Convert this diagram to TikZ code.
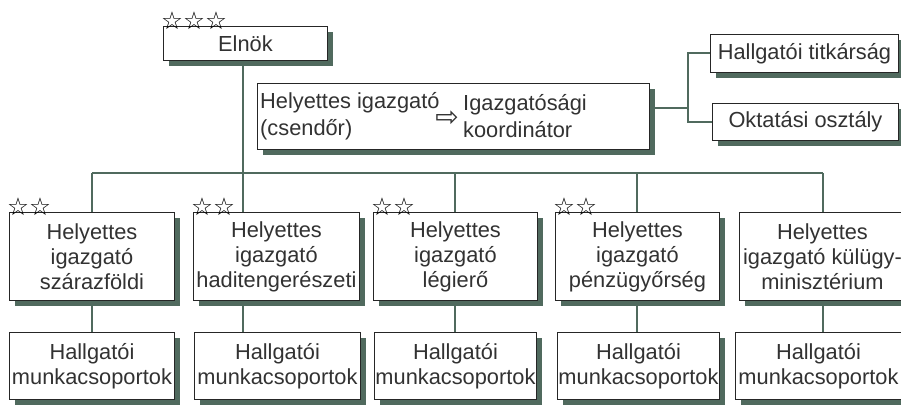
\documentclass[tikz,border=0pt]{standalone}
\usepackage{fontspec}
\setmainfont{Liberation Sans}
\newfontfamily\symfont{DejaVu Sans}
\usetikzlibrary{shadows}
\definecolor{shcol}{RGB}{80,106,94}
\definecolor{txtcol}{RGB}{50,50,50}
\begin{document}
\begin{tikzpicture}[x=1pt,y=-1pt,
  box/.style={draw=black!85, line width=0.9pt, fill=white, inner sep=0pt, align=center,
    text=txtcol, font=\fontsize{21.8}{25}\selectfont, anchor=north west,
    drop shadow={fill=shcol, opacity=1, shadow xshift=6pt, shadow yshift=-6pt}},
  lbl/.style={inner sep=0pt, text=txtcol, font=\fontsize{21.8}{27}\selectfont},
  stars/.style={inner sep=0pt, anchor=south west, text=black, font=\symfont\fontsize{24.5}{24.5}\selectfont},
  conn/.style={draw=shcol, line width=2pt}]
\useasboundingbox (0,0) rectangle (901,405);
\clip (0,0) rectangle (901,405);
% top
\node[box, minimum width=164pt, minimum height=34pt] (elnok) at (163,26) {Elnök};
\node[box, minimum width=392pt, minimum height=66pt] (hig) at (257,83) {};
\node[lbl, anchor=west, align=left] (hl) at (260,116) {Helyettes igazgató\\(csendőr)};
\node[inner sep=0pt, text=txtcol, font=\symfont\fontsize{28}{28}\selectfont] (arr) at (447,119) {⇨};
\node[lbl, anchor=west, align=left] (hr) at (463,116) {Igazgatósági\\koordinátor};
\node[box, minimum width=188pt, minimum height=38pt] (sec) at (710,34) {Hallgatói titkárság};
\node[box, minimum width=186pt, minimum height=37pt] (okt) at (712,103) {Oktatási osztály};
% deputies
\node[box, minimum width=165pt, minimum height=88pt] (d1) at (9,212) {Helyettes\\igazgató\\szárazföldi};
\node[box, minimum width=166pt, minimum height=88pt] (d2) at (193,212) {Helyettes\\igazgató\\haditengerészeti};
\node[box, minimum width=164pt, minimum height=88pt] (d3) at (373,212) {Helyettes\\igazgató\\légierő};
\node[box, minimum width=164pt, minimum height=88pt] (d4) at (555,212) {Helyettes\\igazgató\\pénzügyőrség};
\node[box, minimum width=166pt, minimum height=88pt] (d5) at (739,212) {Helyettes\\igazgató külügy-\\minisztérium};
% working groups
\node[box, minimum width=165pt, minimum height=67pt] (w1) at (9,332) {Hallgatói\\munkacsoportok};
\node[box, minimum width=166pt, minimum height=67pt] (w2) at (194,332) {Hallgatói\\munkacsoportok};
\node[box, minimum width=162pt, minimum height=67pt] (w3) at (374,332) {Hallgatói\\munkacsoportok};
\node[box, minimum width=162pt, minimum height=67pt] (w4) at (557,332) {Hallgatói\\munkacsoportok};
\node[box, minimum width=166pt, minimum height=67pt] (w5) at (735,332) {Hallgatói\\munkacsoportok};
% stars
\node[stars] (st0) at ([xshift=-2pt,yshift=-4pt]elnok.north west) {☆☆☆};
\node[stars] (st1) at ([xshift=-2pt,yshift=-4pt]d1.north west) {☆☆};
\node[stars] (st2) at ([xshift=-2pt,yshift=-4pt]d2.north west) {☆☆};
\node[stars] (st3) at ([xshift=-2pt,yshift=-4pt]d3.north west) {☆☆};
\node[stars] (st4) at ([xshift=-2pt,yshift=-4pt]d4.north west) {☆☆};
% connectors
\coordinate (bus) at (0,173);
\coordinate (vx) at (243,0);
\coordinate (v5) at (823,0);
\draw[conn] (d1.north |- bus) -- (v5 |- bus);
\draw[conn] (vx |- elnok.south) -- (vx |- d2.north);
\draw[conn] (d1.north) -- (d1.north |- bus);
\draw[conn] (d3.north) -- (d3.north |- bus);
\draw[conn] (d4.north) -- (d4.north |- bus);
\draw[conn] (v5 |- d5.north) -- (v5 |- bus);
\draw[conn] (d1.south) -- (w1.north -| d1.south);
\draw[conn] (vx |- d2.south) -- (vx |- w2.north);
\draw[conn] (d3.south) -- (w3.north -| d3.south);
\draw[conn] (d4.south) -- (w4.north -| d4.south);
\draw[conn] (v5 |- d5.south) -- (v5 |- w5.north);
\coordinate (br) at (688,108);
\draw[conn] (hig.east |- br) -- (br);
\draw[conn] (br) |- (sec.west);
\draw[conn] (br) |- (okt.west);
\end{tikzpicture}
\end{document}
